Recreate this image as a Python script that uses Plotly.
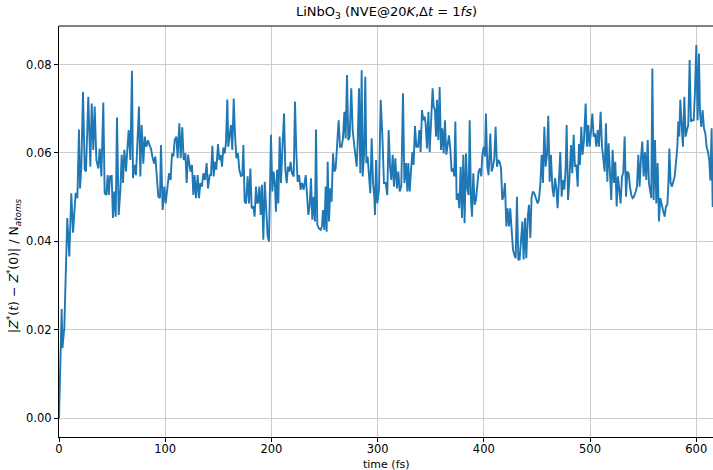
import plotly.graph_objects as go

# Z* deviation per atom vs. simulation time (NVE, 20 K, dt = 1 fs)
time_fs = [
    0, 1.0, 2.5, 3.2, 5.0, 7.8, 9.7, 11.6, 13.2, 15.7, 17.3, 18.8, 19.8, 21.0, 22.6,
    24.2, 25.4, 27.6, 29.5, 30.8, 32.3, 33.6, 35.2, 37.0, 38.3, 39.9, 41.7, 43.0, 44.6,
    45.8, 47.0, 48.0, 49.6, 50.8, 52.1, 53.4, 54.6, 56.2, 57.8, 59.0, 60.3, 61.5, 63.1,
    64.3, 65.6, 67.2, 68.7, 69.7, 71.2, 72.5, 74.1, 75.3, 76.6, 77.8, 79.4, 80.7, 82.2,
    83.8, 85.1, 86.6, 87.9, 89.5, 90.7, 92.0, 93.5, 95.1, 96.0, 97.6, 99.2, 100.4, 102.0,
    103.6, 105.1, 106.4, 107.7, 108.9, 110.5, 111.7, 113.3, 114.6, 116.1, 117.4, 119.0,
    120.2, 121.5, 123.8, 125.2, 126.5, 127.7, 129.0, 130.6, 131.8, 133.1, 134.6, 135.9,
    137.5, 139.0, 140.3, 141.9, 143.1, 144.4, 145.6, 146.9, 148.1, 149.7, 151.0, 152.2,
    153.5, 154.7, 156.0, 157.2, 158.5, 159.4, 160.7, 161.9, 163.2, 164.5, 165.7, 167.0,
    168.5, 169.8, 171.4, 172.6, 173.6, 174.8, 176.1, 177.6, 178.9, 180.2, 181.4, 183.0,
    184.2, 185.5, 186.7, 187.7, 188.6, 189.9, 191.1, 192.4, 193.7, 195.2, 196.5, 197.7,
    199.6, 200.9, 202.1, 203.4, 204.3, 205.3, 206.5, 207.8, 209.0, 210.3, 211.9, 213.1,
    214.4, 215.6, 216.9, 218.1, 219.4, 221.0, 222.2, 223.5, 224.7, 226.0, 227.5, 228.8,
    230.4, 232.3, 233.5, 234.8, 236.0, 237.3, 238.5, 239.8, 241.0, 242.0, 243.2, 244.6,
    246.4, 247.6, 248.6, 249.8, 251.1, 252.0, 253.0, 254.2, 255.5, 256.7, 258.0, 259.2,
    260.5, 262.1, 263.3, 264.6, 266.1, 267.4, 268.7, 269.9, 271.2, 272.4, 273.7, 275.2,
    276.5, 277.8, 279.3, 280.3, 281.2, 282.5, 283.7, 285.0, 285.9, 287.2, 288.4, 289.4,
    290.6, 291.9, 293.1, 294.4, 295.7, 296.9, 297.5, 298.5, 299.7, 301.3, 302.9, 304.4,
    306.0, 307.6, 309.1, 310.4, 311.7, 312.9, 314.2, 315.4, 316.7, 318.2, 319.5, 320.8,
    322.3, 323.9, 325.2, 326.7, 328.0, 328.9, 330.2, 331.4, 332.7, 333.9, 335.2, 336.5,
    338.0, 339.3, 340.5, 341.8, 343.0, 344.3, 345.2, 346.5, 347.8, 349.0, 350.3, 351.8,
    352.8, 354.0, 355.0, 355.9, 357.2, 358.4, 359.7, 360.9, 362.2, 363.4, 364.7, 365.9,
    367.2, 368.5, 369.7, 371.0, 372.2, 373.2, 374.4, 375.7, 376.9, 378.2, 379.4, 380.7,
    381.9, 383.2, 384.5, 385.7, 386.7, 387.9, 388.9, 390.1, 391.4, 392.6, 393.9, 395.1,
    396.4, 397.6, 398.6, 399.8, 401.1, 402.0, 403.3, 404.5, 406.1, 407.4, 408.6, 409.9,
    411.1, 412.4, 413.7, 414.9, 416.2, 417.4, 418.7, 419.9, 421.2, 422.4, 423.7, 424.9,
    426.2, 427.5, 428.7, 430.0, 431.2, 432.5, 433.7, 435.0, 436.3, 437.5, 438.8, 440.0,
    441.3, 442.5, 443.8, 445.0, 446.3, 447.5, 448.8, 450.7, 451.9, 453.2, 454.5, 455.7,
    457.0, 458.2, 459.5, 460.7, 462.0, 463.2, 464.5, 465.8, 467.0, 468.3, 469.5, 470.8,
    472.0, 473.3, 474.5, 475.8, 477.1, 478.0, 479.3, 480.5, 482.1, 483.3, 484.6, 485.8,
    487.1, 488.4, 489.6, 490.5, 491.8, 493.0, 494.3, 495.9, 497.1, 498.4, 499.6, 500.9,
    502.2, 503.4, 504.7, 505.9, 507.2, 508.4, 510.0, 511.3, 512.5, 513.8, 515.0, 516.3,
    517.5, 518.8, 520.0, 521.3, 522.6, 523.8, 525.1, 526.3, 527.6, 528.8, 530.1, 531.3,
    532.6, 533.9, 535.1, 536.4, 537.6, 538.9, 540.1, 541.4, 543.0, 544.2, 545.5, 546.7,
    548.0, 549.2, 550.5, 551.7, 553.0, 554.3, 555.5, 556.8, 557.7, 558.7, 559.9, 561.2,
    562.4, 563.7, 564.9, 566.2, 567.4, 568.7, 570.3, 571.5, 572.8, 573.7, 574.7, 575.9,
    577.2, 578.4, 579.7, 580.9, 582.2, 583.1, 584.1, 585.0, 586.3, 587.5, 588.8, 590.0,
    591.3, 592.5, 593.8, 595.0, 596.3, 597.6, 598.8, 600.1, 601.3, 602.6, 603.5, 604.8,
    606.0, 607.3, 608.6, 609.8, 611.1, 612.3, 613.3, 614.5, 615.5,
]

z_dev = [
    0.0, 0.0135, 0.0247, 0.0159, 0.0205, 0.0453, 0.0366, 0.0509, 0.0420, 0.0510, 0.0498, 0.0653, 0.0520, 0.0565, 0.0738,
    0.0562, 0.0558, 0.0727, 0.0569, 0.0712, 0.0607, 0.0705, 0.0584, 0.0565, 0.0610, 0.0547, 0.0714, 0.0509, 0.0505,
    0.0550, 0.0505, 0.0547, 0.0548, 0.0453, 0.0513, 0.0456, 0.0680, 0.0460, 0.0517, 0.0596, 0.0532, 0.0607, 0.0558,
    0.0607, 0.0652, 0.0584, 0.0786, 0.0543, 0.0573, 0.0550, 0.0652, 0.0705, 0.0547, 0.0663, 0.0576, 0.0637, 0.0614,
    0.0629, 0.0618, 0.0610, 0.0592, 0.0576, 0.0592, 0.0554, 0.0501, 0.0498, 0.0618, 0.0471, 0.0524, 0.0486, 0.0524,
    0.0554, 0.0539, 0.0599, 0.0592, 0.0629, 0.0637, 0.0588, 0.0667, 0.0588, 0.0658, 0.0584, 0.0599,
    0.0532, 0.0596, 0.0558, 0.0573, 0.0505, 0.0550, 0.0498, 0.0550, 0.0498, 0.0532, 0.0524, 0.0554,
    0.0539, 0.0577, 0.0520, 0.0550, 0.0550, 0.0616, 0.0547, 0.0580, 0.0562, 0.0620, 0.0584, 0.0596,
    0.0569, 0.0612, 0.0599, 0.0622, 0.0721, 0.0614, 0.0637, 0.0663, 0.0607, 0.0723, 0.0644, 0.0588,
    0.0599, 0.0562, 0.0547, 0.0550, 0.0618, 0.0490, 0.0486, 0.0547, 0.0486, 0.0565, 0.0475, 0.0479,
    0.0456, 0.0524, 0.0486, 0.0490, 0.0524, 0.0460, 0.0528, 0.0404, 0.0535, 0.0449, 0.0411, 0.0400,
    0.0641, 0.0513, 0.0558, 0.0524, 0.0467, 0.0562, 0.0486, 0.0637, 0.0532, 0.0607, 0.0689, 0.0562,
    0.0532, 0.0569, 0.0558, 0.0580, 0.0554, 0.0547, 0.0716, 0.0599, 0.0535, 0.0550, 0.0517, 0.0532,
    0.0517, 0.0550, 0.0494, 0.0460, 0.0479, 0.0543, 0.0449, 0.0501, 0.0445, 0.0653, 0.0438, 0.0430,
    0.0426, 0.0434, 0.0471, 0.0426, 0.0524, 0.0422, 0.0580, 0.0445, 0.0520, 0.0490, 0.0599, 0.0558,
    0.0565, 0.0629, 0.0674, 0.0614, 0.0614, 0.0633, 0.0693, 0.0633, 0.0776, 0.0629, 0.0637, 0.0746,
    0.0652, 0.0622, 0.0596, 0.0569, 0.0622, 0.0746, 0.0554, 0.0787, 0.0547, 0.0596, 0.0772, 0.0577,
    0.0592, 0.0539, 0.0509, 0.0633, 0.0532, 0.0501, 0.0460, 0.0584, 0.0486, 0.0517, 0.0720, 0.0644,
    0.0532, 0.0532, 0.0505, 0.0652, 0.0569, 0.0539, 0.0596, 0.0524, 0.0588, 0.0520, 0.0558, 0.0513,
    0.0524, 0.0735, 0.0532, 0.0577, 0.0513, 0.0577, 0.0513, 0.0558, 0.0602, 0.0573, 0.0661, 0.0614,
    0.0614, 0.0652, 0.0602, 0.0697, 0.0674, 0.0682, 0.0667, 0.0610, 0.0693, 0.0602, 0.0674, 0.0746,
    0.0705, 0.0697, 0.0637, 0.0720, 0.0629, 0.0749, 0.0607, 0.0656, 0.0599, 0.0674, 0.0596, 0.0622,
    0.0640, 0.0607, 0.0558, 0.0565, 0.0547, 0.0671, 0.0494, 0.0509, 0.0475, 0.0569, 0.0453, 0.0596,
    0.0441, 0.0599, 0.0517, 0.0505, 0.0674, 0.0494, 0.0456, 0.0554, 0.0483, 0.0494, 0.0528, 0.0558,
    0.0565, 0.0547, 0.0596, 0.0614, 0.0592, 0.0689, 0.0569, 0.0550, 0.0644, 0.0558, 0.0569, 0.0588,
    0.0659, 0.0569, 0.0584, 0.0580, 0.0565, 0.0494, 0.0505, 0.0532, 0.0434, 0.0475, 0.0434, 0.0475,
    0.0426, 0.0381, 0.0370, 0.0362, 0.0501, 0.0359, 0.0359, 0.0404, 0.0445, 0.0359, 0.0453, 0.0362,
    0.0453, 0.0483, 0.0408, 0.0501, 0.0513, 0.0509, 0.0498, 0.0486, 0.0494, 0.0528, 0.0596, 0.0532,
    0.0659, 0.0569, 0.0596, 0.0684, 0.0535, 0.0596, 0.0524, 0.0501, 0.0543, 0.0520, 0.0475, 0.0547,
    0.0602, 0.0501, 0.0539, 0.0517, 0.0569, 0.0663, 0.0494, 0.0535, 0.0618, 0.0554, 0.0641, 0.0569,
    0.0573, 0.0524, 0.0620, 0.0573, 0.0659, 0.0596, 0.0629, 0.0712, 0.0614, 0.0663, 0.0614, 0.0648,
    0.0689, 0.0637, 0.0644, 0.0614, 0.0652, 0.0614, 0.0693, 0.0614, 0.0592, 0.0558, 0.0667, 0.0535,
    0.0622, 0.0539, 0.0494, 0.0607, 0.0532, 0.0580, 0.0479, 0.0547, 0.0520, 0.0486, 0.0547, 0.0554,
    0.0637, 0.0501, 0.0558, 0.0554, 0.0524, 0.0505, 0.0498, 0.0501, 0.0513, 0.0524, 0.0596, 0.0524,
    0.0588, 0.0626, 0.0547, 0.0602, 0.0539, 0.0629, 0.0532, 0.0505, 0.0498, 0.0791, 0.0494, 0.0629,
    0.0486, 0.0577, 0.0445, 0.0498, 0.0483, 0.0471, 0.0456, 0.0479, 0.0483, 0.0524, 0.0610, 0.0532,
    0.0524, 0.0535, 0.0547, 0.0577, 0.0614, 0.0671, 0.0637, 0.0720, 0.0667, 0.0614, 0.0727, 0.0637,
    0.0652, 0.0663, 0.0810, 0.0671, 0.0674, 0.0674, 0.0738, 0.0844, 0.0674, 0.0825, 0.0693, 0.0659,
    0.0697, 0.0656, 0.0644, 0.0614, 0.0602, 0.0584, 0.0538, 0.0656, 0.0478,
]

x_ticks = [0, 100, 200, 300, 400, 500, 600]
y_ticks = [0.00, 0.02, 0.04, 0.06, 0.08]

FONT = "DejaVu Sans, sans-serif"

fig = go.Figure()
fig.add_trace(go.Scatter(
    x=time_fs, y=z_dev, mode="lines",
    line=dict(color="#1f77b4", width=1.9),
    hoverinfo="x+y", showlegend=False,
))

axis_common = dict(
    showgrid=True, gridcolor="#cccccc", gridwidth=1,
    showline=True, linecolor="black", linewidth=1,
    ticks="outside", ticklen=4, tickwidth=1, tickcolor="black",
    zeroline=False, tickfont=dict(family=FONT, size=11.5, color="black"),
)

fig.update_layout(
    width=713, height=470,
    margin=dict(l=59, r=0, t=26, b=33),
    paper_bgcolor="white", plot_bgcolor="white",
    font=dict(family=FONT, size=12, color="black"),
    xaxis=dict(range=[0, 615.8], tickvals=x_ticks, ticktext=[str(v) for v in x_ticks],
               ticklabelstandoff=-3, **axis_common),
    yaxis=dict(range=[-0.0042, 0.0887], tickvals=y_ticks, tickformat=".2f", **axis_common),
    shapes=[dict(type="line", xref="paper", yref="paper", x0=0, x1=1, y0=1, y1=1,
                 line=dict(color="black", width=1))],
    annotations=[
        dict(text="LiNbO<sub>3</sub> (NVE@20<i>K</i>,Δ<i>t</i> = 1<i>fs</i>)",
             xref="paper", yref="paper", x=0.5, y=1.032, xanchor="center", yanchor="middle",
             showarrow=False, font=dict(family=FONT, size=13)),
        dict(text="time (fs)", xref="paper", yref="paper", x=0.5, y=-0.067,
             xanchor="center", yanchor="middle", showarrow=False, font=dict(family=FONT, size=11)),
        dict(text="|<i>Z</i><sup>*</sup>(<i>t</i>) − <i>Z</i><sup>*</sup>(0)| / N<sub><i>atoms</i></sub>",
             xref="paper", yref="paper", x=-0.069, y=0.416, textangle=-90,
             xanchor="center", yanchor="middle", showarrow=False, font=dict(family=FONT, size=12.5)),
    ],
)

fig.write_html("out.html")
